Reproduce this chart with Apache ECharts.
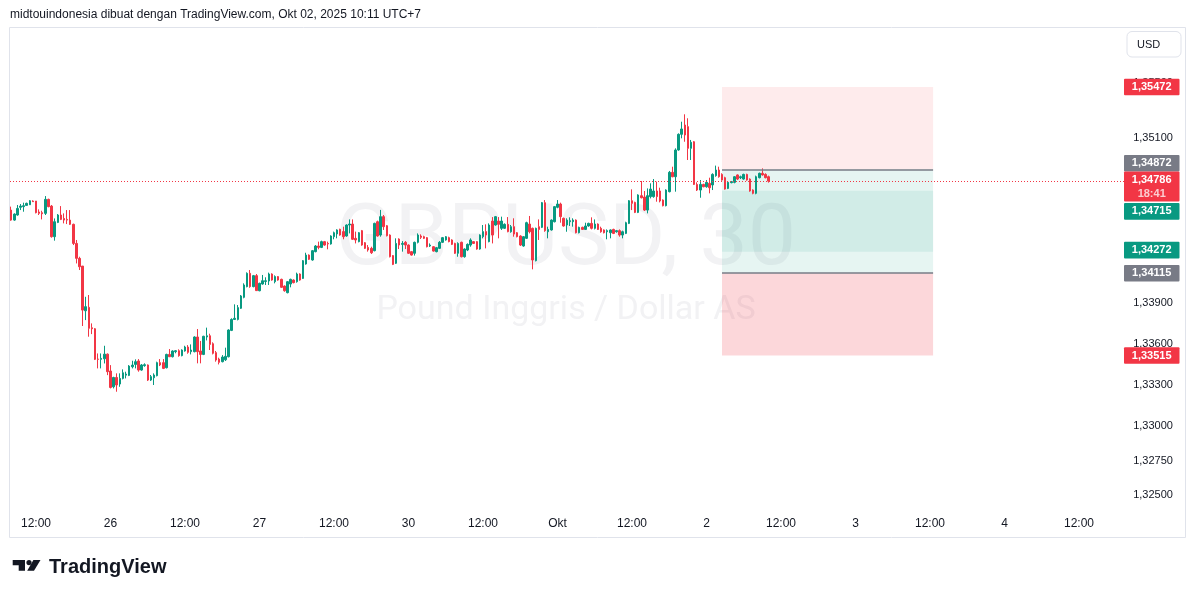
<!DOCTYPE html>
<html><head><meta charset="utf-8">
<script src="https://cdn.jsdelivr.net/npm/echarts@6/dist/echarts.min.js"></script>
<style>html,body{margin:0;padding:0;background:#fff;}#c{width:1195px;height:598px;}</style>
</head><body><div id="c"></div>
<script>
// ---- candle values (GBPUSD, 30 min) ----
const openP = [
1.34575,1.34502,1.34539,1.34595,1.34600,1.34609,1.34614,1.34641,1.34641,1.34561,
1.34556,1.34551,1.34653,1.34604,1.34381,1.34485,1.34539,1.34514,1.34507,1.34502,
1.34471,1.34332,1.34223,1.34167,1.33841,1.33866,1.33717,1.33710,1.33489,1.33487,
1.33491,1.33525,1.33402,1.33287,1.33355,1.33307,1.33348,1.33372,1.33370,1.33433,
1.33450,1.33475,1.33409,1.33441,1.33446,1.33336,1.33353,1.33368,1.33463,1.33463,
1.33426,1.33523,1.33506,1.33543,1.33550,1.33514,1.33548,1.33577,1.33543,1.33543,
1.33650,1.33548,1.33523,1.33650,1.33659,1.33601,1.33536,1.33489,1.33470,1.33484,
1.33506,1.33698,1.33778,1.33778,1.33859,1.33939,1.34017,1.34114,1.34017,1.34097,
1.33987,1.34036,1.34055,1.34058,1.34109,1.34053,1.34090,1.34070,1.34021,1.33973,
1.34036,1.34065,1.34053,1.34109,1.34077,1.34182,1.34247,1.34211,1.34272,1.34313,
1.34303,1.34345,1.34332,1.34328,1.34381,1.34401,1.34435,1.34418,1.34386,1.34466,
1.34473,1.34369,1.34345,1.34425,1.34337,1.34303,1.34296,1.34279,1.34490,1.34393,
1.34527,1.34461,1.34393,1.34243,1.34187,1.34364,1.34325,1.34340,1.34320,1.34272,
1.34260,1.34340,1.34386,1.34381,1.34374,1.34313,1.34308,1.34272,1.34296,1.34340,
1.34357,1.34374,1.34357,1.34332,1.34260,1.34340,1.34235,1.34284,1.34320,1.34345,
1.34345,1.34291,1.34381,1.34418,1.34345,1.34495,1.34466,1.34495,1.34442,1.34442,
1.34471,1.34417,1.34454,1.34410,1.34386,1.34313,1.34369,1.34473,1.34442,1.34206,
1.34454,1.34449,1.34629,1.34417,1.34430,1.34490,1.34595,1.34619,1.34515,1.34466,
1.34490,1.34490,1.34502,1.34410,1.34449,1.34434,1.34459,1.34478,1.34442,1.34473,
1.34442,1.34430,1.34417,1.34410,1.34434,1.34417,1.34425,1.34393,1.34405,1.34478,
1.34643,1.34631,1.34558,1.34680,1.34670,1.34575,1.34673,1.34673,1.34714,1.34714,
1.34648,1.34607,1.34709,1.34850,1.34818,1.35013,1.35127,1.35195,1.35183,1.35025,
1.35073,1.34762,1.34721,1.34762,1.34745,1.34770,1.34758,1.34826,1.34867,1.34835,
1.34811,1.34733,1.34775,1.34777,1.34831,1.34811,1.34801,1.34835,1.34801,1.34721,
1.34697,1.34811,1.34843,1.34835,1.34818];
const closeP = [
1.34502,1.34546,1.34587,1.34604,1.34607,1.34624,1.34643,1.34636,1.34556,1.34551,
1.34548,1.34653,1.34600,1.34381,1.34490,1.34539,1.34507,1.34502,1.34502,1.34471,
1.34332,1.34223,1.34162,1.33846,1.33871,1.33713,1.33710,1.33487,1.33487,1.33494,
1.33525,1.33397,1.33282,1.33355,1.33300,1.33348,1.33389,1.33380,1.33438,1.33445,
1.33470,1.33409,1.33446,1.33448,1.33336,1.33361,1.33373,1.33463,1.33446,1.33421,
1.33523,1.33506,1.33548,1.33550,1.33514,1.33555,1.33577,1.33538,1.33555,1.33650,
1.33543,1.33523,1.33655,1.33659,1.33596,1.33531,1.33482,1.33465,1.33504,1.33509,
1.33701,1.33778,1.33786,1.33864,1.33949,1.34029,1.34114,1.34017,1.34097,1.33988,
1.34041,1.34060,1.34060,1.34109,1.34065,1.34090,1.34065,1.34012,1.33987,1.34053,
1.34070,1.34046,1.34109,1.34065,1.34206,1.34247,1.34216,1.34279,1.34313,1.34303,
1.34345,1.34320,1.34328,1.34386,1.34410,1.34430,1.34393,1.34381,1.34466,1.34473,
1.34362,1.34357,1.34410,1.34320,1.34296,1.34284,1.34264,1.34478,1.34386,1.34527,
1.34454,1.34388,1.34235,1.34179,1.34332,1.34320,1.34332,1.34320,1.34260,1.34247,
1.34340,1.34393,1.34376,1.34369,1.34308,1.34320,1.34276,1.34301,1.34340,1.34374,
1.34381,1.34345,1.34325,1.34260,1.34332,1.34235,1.34291,1.34325,1.34357,1.34332,
1.34291,1.34393,1.34418,1.34393,1.34466,1.34393,1.34527,1.34471,1.34495,1.34471,
1.34418,1.34454,1.34400,1.34381,1.34320,1.34381,1.34483,1.34417,1.34211,1.34442,
1.34434,1.34629,1.34425,1.34434,1.34502,1.34600,1.34619,1.34527,1.34459,1.34502,
1.34498,1.34502,1.34410,1.34449,1.34434,1.34459,1.34478,1.34442,1.34473,1.34434,
1.34417,1.34410,1.34425,1.34430,1.34405,1.34425,1.34393,1.34417,1.34483,1.34643,
1.34624,1.34558,1.34685,1.34665,1.34575,1.34680,1.34728,1.34714,1.34673,1.34641,
1.34607,1.34721,1.34850,1.34818,1.35013,1.35127,1.35166,1.35122,1.35025,1.35069,
1.34762,1.34721,1.34762,1.34745,1.34777,1.34738,1.34835,1.34867,1.34818,1.34794,
1.34728,1.34777,1.34782,1.34818,1.34801,1.34818,1.34835,1.34794,1.34714,1.34697,
1.34818,1.34843,1.34831,1.34811,1.34786];
const lowP = [
1.34497,1.34497,1.34534,1.34575,1.34563,1.34607,1.34612,1.34634,1.34551,1.34539,
1.34507,1.34539,1.34595,1.34374,1.34352,1.34480,1.34502,1.34478,1.34473,1.34466,
1.34320,1.34186,1.34138,1.33730,1.33773,1.33652,1.33671,1.33482,1.33421,1.33421,
1.33457,1.33372,1.33275,1.33275,1.33251,1.33287,1.33341,1.33348,1.33365,1.33421,
1.33421,1.33397,1.33404,1.33433,1.33329,1.33329,1.33300,1.33363,1.33438,1.33416,
1.33421,1.33504,1.33501,1.33531,1.33506,1.33509,1.33543,1.33528,1.33523,1.33538,
1.33458,1.33458,1.33518,1.33625,1.33555,1.33523,1.33470,1.33450,1.33465,1.33475,
1.33501,1.33693,1.33774,1.33771,1.33854,1.33932,1.34012,1.34009,1.34012,1.33985,
1.33983,1.34031,1.34029,1.34029,1.34060,1.34041,1.34060,1.34007,1.33980,1.33968,
1.34012,1.34041,1.34046,1.34060,1.34073,1.34177,1.34211,1.34206,1.34267,1.34289,
1.34298,1.34315,1.34289,1.34323,1.34362,1.34369,1.34388,1.34362,1.34381,1.34405,
1.34357,1.34332,1.34340,1.34315,1.34291,1.34272,1.34255,1.34274,1.34381,1.34381,
1.34430,1.34383,1.34230,1.34174,1.34182,1.34291,1.34272,1.34291,1.34255,1.34243,
1.34243,1.34332,1.34364,1.34364,1.34303,1.34306,1.34272,1.34267,1.34291,1.34335,
1.34352,1.34340,1.34320,1.34255,1.34235,1.34230,1.34228,1.34276,1.34308,1.34328,
1.34286,1.34286,1.34369,1.34296,1.34340,1.34332,1.34461,1.34369,1.34430,1.34437,
1.34413,1.34410,1.34381,1.34376,1.34313,1.34308,1.34364,1.34405,1.34143,1.34201,
1.34357,1.34444,1.34417,1.34369,1.34425,1.34485,1.34588,1.34483,1.34454,1.34417,
1.34459,1.34454,1.34405,1.34405,1.34430,1.34430,1.34454,1.34434,1.34434,1.34430,
1.34410,1.34405,1.34362,1.34369,1.34400,1.34410,1.34381,1.34369,1.34400,1.34473,
1.34575,1.34553,1.34553,1.34660,1.34568,1.34551,1.34660,1.34665,1.34636,1.34631,
1.34602,1.34602,1.34704,1.34814,1.34709,1.35008,1.35098,1.35073,1.34940,1.34940,
1.34758,1.34714,1.34665,1.34741,1.34738,1.34697,1.34721,1.34818,1.34811,1.34789,
1.34724,1.34728,1.34770,1.34770,1.34794,1.34801,1.34796,1.34789,1.34709,1.34690,
1.34690,1.34806,1.34826,1.34806,1.34775];
const highP = [
1.34600,1.34551,1.34612,1.34619,1.34629,1.34629,1.34648,1.34646,1.34641,1.34580,
1.34570,1.34677,1.34658,1.34612,1.34514,1.34546,1.34604,1.34551,1.34575,1.34575,
1.34476,1.34357,1.34235,1.34167,1.33943,1.33956,1.33749,1.33715,1.33530,1.33530,
1.33586,1.33530,1.33445,1.33360,1.33385,1.33385,1.33414,1.33397,1.33445,1.33477,
1.33487,1.33489,1.33453,1.33458,1.33450,1.33373,1.33385,1.33470,1.33489,1.33489,
1.33528,1.33562,1.33553,1.33555,1.33560,1.33560,1.33586,1.33591,1.33596,1.33655,
1.33708,1.33621,1.33659,1.33718,1.33674,1.33611,1.33548,1.33499,1.33518,1.33572,
1.33706,1.33786,1.33888,1.33883,1.33956,1.34041,1.34121,1.34138,1.34102,1.34109,
1.34046,1.34102,1.34085,1.34119,1.34114,1.34099,1.34094,1.34075,1.34026,1.34058,
1.34075,1.34070,1.34119,1.34114,1.34211,1.34264,1.34252,1.34284,1.34320,1.34345,
1.34352,1.34350,1.34345,1.34391,1.34418,1.34435,1.34439,1.34454,1.34471,1.34507,
1.34507,1.34418,1.34415,1.34430,1.34342,1.34320,1.34308,1.34483,1.34498,1.34576,
1.34539,1.34466,1.34398,1.34247,1.34369,1.34369,1.34349,1.34349,1.34325,1.34277,
1.34345,1.34405,1.34398,1.34388,1.34379,1.34332,1.34313,1.34306,1.34349,1.34379,
1.34386,1.34381,1.34362,1.34337,1.34340,1.34345,1.34296,1.34332,1.34369,1.34349,
1.34349,1.34398,1.34466,1.34471,1.34478,1.34524,1.34532,1.34524,1.34527,1.34478,
1.34524,1.34466,1.34515,1.34415,1.34391,1.34386,1.34490,1.34532,1.34447,1.34447,
1.34507,1.34634,1.34648,1.34454,1.34507,1.34605,1.34648,1.34629,1.34520,1.34515,
1.34522,1.34515,1.34507,1.34454,1.34454,1.34483,1.34483,1.34522,1.34507,1.34478,
1.34454,1.34434,1.34434,1.34434,1.34439,1.34430,1.34434,1.34425,1.34490,1.34648,
1.34726,1.34636,1.34690,1.34787,1.34714,1.34733,1.34770,1.34801,1.34782,1.34738,
1.34653,1.34726,1.34860,1.34891,1.35025,1.35134,1.35219,1.35273,1.35244,1.35086,
1.35078,1.34777,1.34794,1.34767,1.34794,1.34811,1.34843,1.34899,1.34891,1.34843,
1.34818,1.34782,1.34787,1.34823,1.34835,1.34826,1.34840,1.34840,1.34806,1.34726,
1.34826,1.34848,1.34879,1.34843,1.34826];

// ---- axes ----
const slotCount = 356;               // candles + empty future slots
const xLabelIdx  = [8, 32, 56, 80, 104, 128, 152, 176, 200, 224, 248, 272, 296, 320, 344];
const xLabelText = ['12:00','26','12:00','27','12:00','30','12:00','Okt','12:00','2','12:00','3','12:00','4','12:00'];
const yTickValues = [1.325, 1.3275, 1.33, 1.333, 1.336, 1.339, 1.351, 1.355];
const yMin = 1.32389, yMax = 1.35902;

// ---- drawings (position tools) ----
const bandTops    = [1.35472, 1.34872, 1.34715, 1.34272, 1.34115];
const bandBottoms = [1.34872, 1.34715, 1.34272, 1.34115, 1.33515];
const bandColors  = ['rgba(242,54,69,0.1)', 'rgba(8,153,129,0.1)', 'rgba(8,153,129,0.19)', 'rgba(8,153,129,0.1)', 'rgba(242,54,69,0.2)'];
const entryLevels = [1.34872, 1.34115];
const toolStartIdx = 229, toolEndIdx = 297;
const lastPrice = 1.34786, countdown = '18:41';

// ---- price tags on the right scale ----
const tagValues  = [1.35472, 1.34872, 1.34786, 1.34715, 1.34272, 1.34115, 1.33515];
const tagColors  = ['#f23645', '#787b86', '#f23645', '#089981', '#089981', '#787b86', '#f23645'];
const tagShiftPx = [0, -6, 0, 20.5, -1.5, 0, 0];

// category names (30-minute times, weekend gap removed for the traded part)
const cats = [];
{
  let t = Date.UTC(2025, 8, 25, 8, 0);
  for (let k = 0; k < slotCount; k++) {
    const d = new Date(t);
    cats.push(d.toISOString().slice(0, 16).replace('T', ' '));
    t += 30 * 60000;
    const n = new Date(t);
    if (k < openP.length - 1 && n.getUTCDay() === 6 && n.getUTCHours() === 4) t += 48 * 3600000;
  }
}
const candles = openP.map((o, i) => [o, closeP[i], lowP[i], highP[i]]);

const FONT = 'Liberation Sans, Arial, sans-serif';
const chart = echarts.init(document.getElementById('c'), null, {renderer: 'canvas'});

const markAreaData = bandTops.map((top, i) => [
  {xAxis: cats[toolStartIdx], yAxis: top, itemStyle: {color: bandColors[i]}},
  {xAxis: cats[toolEndIdx], yAxis: bandBottoms[i]}
]);
const entryStyle = {color: '#787b86', type: 'solid', width: 1.5};
const markLineData = entryLevels.map(v => [
  {coord: [cats[toolStartIdx], v], lineStyle: entryStyle},
  {coord: [cats[toolEndIdx], v], lineStyle: entryStyle}
]);

chart.setOption({
  animation: false,
  backgroundColor: '#ffffff',
  grid: {left: 9.65, top: 28, width: slotCount * 3.104, height: 482, containLabel: false},
  xAxis: {
    type: 'category', data: cats, boundaryGap: true,
    axisLine: {show: false}, axisTick: {show: false}, splitLine: {show: false},
    axisLabel: {
      interval: (idx) => xLabelIdx.indexOf(idx) >= 0,
      formatter: (v, idx) => { const p = xLabelIdx.indexOf(idx); return p >= 0 ? xLabelText[p] : ''; },
      color: '#131722', fontSize: 12, fontFamily: FONT, margin: 8, hideOverlap: false
    }
  },
  yAxis: {
    type: 'value', position: 'right', min: yMin, max: yMax, scale: true,
    axisLine: {show: false}, axisTick: {show: false}, splitLine: {show: false},
    axisLabel: {
      customValues: yTickValues,
      formatter: (v) => v.toFixed(5).replace('.', ','),
      color: '#131722', fontSize: 11, fontFamily: FONT, margin: 18.5, align: 'left',
      padding: [0, 0, 4, 0]
    }
  },
  series: [{
    type: 'candlestick',
    data: candles,
    barWidth: 2,
    itemStyle: {color: '#089981', color0: '#f23645', borderColor: '#089981', borderColor0: '#f23645', borderWidth: 1},
    markArea: {silent: true, data: markAreaData, itemStyle: {opacity: 1}},
    markLine: {silent: true, symbol: ['none', 'none'], label: {show: false}, data: markLineData}
  }]
});

// graphics: header, frame, watermark, logo, price tags
const g = [];
g.push({type: 'rect', z: -10, shape: {x: 9.5, y: 27.5, width: 1176, height: 510}, style: {fill: 'none', stroke: '#e0e3eb', lineWidth: 1}, silent: true});
g.push({type: 'text', z: -5, x: 566, y: 242, style: {text: 'GBPUSD, 30', font: '86px Roboto', fill: '#f2f2f4', align: 'center', verticalAlign: 'middle'}, silent: true});
g.push({type: 'text', z: -5, x: 566, y: 310, style: {text: 'Pound Inggris / Dollar AS', font: '34px Roboto', fill: '#f2f2f4', align: 'center', verticalAlign: 'middle'}, silent: true});
g.push({type: 'text', x: 10, y: 15, style: {text: 'midtouindonesia dibuat dengan TradingView.com, Okt 02, 2025 10:11 UTC+7', font: '12px ' + FONT, fill: '#131722', verticalAlign: 'middle'}});
// USD button
g.push({type: 'rect', shape: {x: 1127, y: 31.5, width: 54, height: 25.5, r: 5}, style: {fill: '#fff', stroke: '#e0e3eb', lineWidth: 1}});
g.push({type: 'text', x: 1137, y: 44.5, style: {text: 'USD', font: '11px ' + FONT, fill: '#131722', verticalAlign: 'middle'}});
// TradingView logo
g.push({type: 'polygon', shape: {points: [[12.7, 560], [25, 560], [25, 570.7], [18.7, 570.7], [18.7, 565.3], [12.7, 565.3]]}, style: {fill: '#131722'}});
g.push({type: 'circle', shape: {cx: 29, cy: 562.6, r: 2.6}, style: {fill: '#131722'}});
g.push({type: 'polygon', shape: {points: [[33.4, 560], [40.5, 560], [34, 570.7], [27.2, 570.7]]}, style: {fill: '#131722'}});
g.push({type: 'text', x: 49, y: 567.5, style: {text: 'TradingView', font: 'bold 20px ' + FONT, fill: '#131722', verticalAlign: 'middle'}});

// dotted last-price line across the pane, up to its tag (y from the axis scale)
const lpY = Math.round(chart.convertToPixel({yAxisIndex: 0}, lastPrice)) + 0.5;
g.push({type: 'line', z: 5, shape: {x1: 10, y1: lpY, x2: 1124, y2: lpY}, style: {stroke: '#f23645', lineWidth: 1, lineDash: [1, 2]}, silent: true});

tagValues.forEach((v, i) => {
  const py = chart.convertToPixel({yAxisIndex: 0}, v) + tagShiftPx[i];
  const label = v.toFixed(5).replace('.', ',');
  if (v === lastPrice) {
    g.push({type: 'rect', z: 6, shape: {x: 1124, y: py - 9.5, width: 55.5, height: 30, r: 1}, style: {fill: tagColors[i]}});
    g.push({type: 'text', z: 7, x: 1151.7, y: py - 1.5, style: {text: label, font: 'bold 11px ' + FONT, fill: '#ffffff', align: 'center', verticalAlign: 'middle'}});
    g.push({type: 'text', z: 7, x: 1151.7, y: py + 12.5, style: {text: countdown, font: 'bold 11px ' + FONT, fill: 'rgba(255,255,255,0.75)', align: 'center', verticalAlign: 'middle'}});
  } else {
    g.push({type: 'rect', z: 6, shape: {x: 1124, y: py - 8.3, width: 55.5, height: 16.6, r: 1}, style: {fill: tagColors[i]}});
    g.push({type: 'text', z: 7, x: 1151.7, y: py, style: {text: label, font: 'bold 11px ' + FONT, fill: '#ffffff', align: 'center', verticalAlign: 'middle'}});
  }
});
chart.setOption({graphic: g});
</script></body></html>
